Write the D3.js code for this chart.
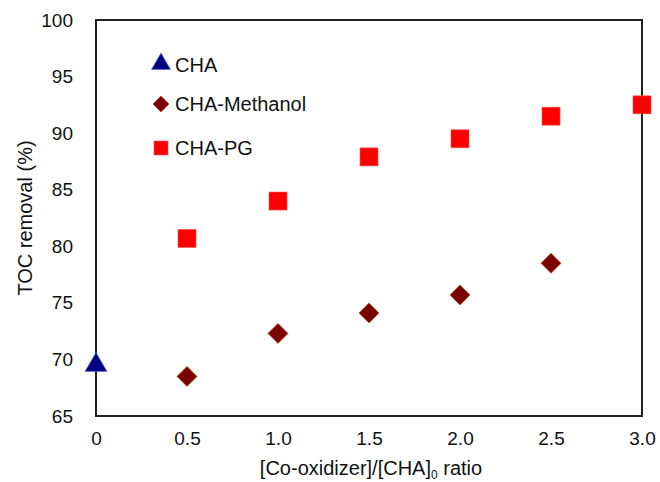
<!DOCTYPE html>
<html>
<head>
<meta charset="utf-8">
<script src="https://cdn.jsdelivr.net/npm/d3@7"></script>
<style>
  html, body { margin: 0; padding: 0; background: #fff; }
  svg { display: block; font-family: "Liberation Sans", Arial, Helvetica, sans-serif; }
</style>
</head>
<body>
<svg id="chart" width="660" height="482"></svg>
<script>
// TOC removal vs. co-oxidizer ratio
const chaX = [0];
const chaY = [69.5];

const methanolX = [0.5, 1.0, 1.5, 2.0, 2.5];
const methanolY = [68.5, 72.3, 74.1, 75.7, 78.5];

const pgX = [0.5, 1.0, 1.5, 2.0, 2.5, 3.0];
const pgY = [80.7, 84.0, 87.9, 89.5, 91.5, 92.5];

const xTicks = [0, 0.5, 1.0, 1.5, 2.0, 2.5, 3.0];
const xTickLabels = ["0", "0.5", "1.0", "1.5", "2.0", "2.5", "3.0"];
const yTicks = [65, 70, 75, 80, 85, 90, 95, 100];

const legendNames = ["CHA", "CHA-Methanol", "CHA-PG"];

const svg = d3.select("#chart");
const margin = { left: 96, right: 18, top: 20, bottom: 66 };
const W = 660, H = 482;

const x = d3.scaleLinear().domain([0, 3]).range([margin.left, W - margin.right]);
const y = d3.scaleLinear().domain([65, 100]).range([H - margin.bottom, margin.top]);

// Frame
svg.append("rect")
  .attr("x", x(0)).attr("y", y(100))
  .attr("width", x(3) - x(0)).attr("height", y(65) - y(100))
  .attr("fill", "none").attr("stroke", "#222").attr("stroke-width", 2);

// Axes (labels only, no tick marks)
const xAxis = d3.axisBottom(x).tickValues(xTicks)
  .tickFormat((d, i) => xTickLabels[i]).tickSize(0).tickPadding(16);
const gx = svg.append("g").attr("transform", `translate(0,${y(65)})`).call(xAxis);
gx.select(".domain").remove();
gx.selectAll("text").attr("font-size", 19).attr("fill", "#111").attr("font-family", null);

const yAxis = d3.axisLeft(y).tickValues(yTicks).tickSize(0).tickPadding(23);
const gy = svg.append("g").attr("transform", `translate(${x(0)},0)`).call(yAxis);
gy.select(".domain").remove();
gy.selectAll("text").attr("font-size", 19).attr("fill", "#111").attr("font-family", null);

// Axis titles
svg.append("text")
  .attr("transform", `translate(32,${(y(65) + y(100)) / 2}) rotate(-90)`)
  .attr("text-anchor", "middle").attr("font-size", 20).attr("fill", "#111")
  .text("TOC removal (%)");

const xt = svg.append("text")
  .attr("x", 371).attr("y", 475)
  .attr("text-anchor", "middle").attr("font-size", 20).attr("fill", "#111");
xt.append("tspan").text("[Co-oxidizer]/[CHA]");
xt.append("tspan").attr("font-size", 12).attr("dy", 4).text("0");
xt.append("tspan").attr("dy", -4).text(" ratio");

// Marker shapes
const tri = d3.symbol().type(d3.symbolTriangle).size(200);
const dia = (cx, cy, r) => `M${cx},${cy - r}L${cx + r},${cy}L${cx},${cy + r}L${cx - r},${cy}Z`;
const sq = 18;

// CHA
svg.append("g").selectAll("path").data(chaX.map((d, i) => [d, chaY[i]])).join("path")
  .attr("d", tri)
  .attr("transform", d => `translate(${x(d[0])},${y(d[1])})`)
  .attr("fill", "#000080").attr("stroke", "#3050c0").attr("stroke-width", 0.8);

// CHA-Methanol
svg.append("g").selectAll("path").data(methanolX.map((d, i) => [d, methanolY[i]])).join("path")
  .attr("d", d => dia(x(d[0]), y(d[1]), 10))
  .attr("fill", "#7a0000").attr("stroke", "#c05020").attr("stroke-width", 0.8);

// CHA-PG
svg.append("g").selectAll("rect").data(pgX.map((d, i) => [d, pgY[i]])).join("rect")
  .attr("x", d => x(d[0]) - sq / 2).attr("y", d => y(d[1]) - sq / 2)
  .attr("width", sq).attr("height", sq)
  .attr("fill", "#ff0000").attr("stroke", "#ff5050").attr("stroke-width", 0.6);

// Legend
const legY = [65, 104, 148];
const lg = svg.append("g");
lg.append("path").attr("d", d3.symbol().type(d3.symbolTriangle).size(150))
  .attr("transform", `translate(161,${legY[0] - 1})`)
  .attr("fill", "#000080").attr("stroke", "#3050c0").attr("stroke-width", 0.8);
lg.append("path").attr("d", dia(161, legY[1], 8))
  .attr("fill", "#7a0000").attr("stroke", "#c05020").attr("stroke-width", 0.8);
lg.append("rect").attr("x", 154).attr("y", legY[2] - 7).attr("width", 14).attr("height", 14)
  .attr("fill", "#ff0000").attr("stroke", "#ff5050").attr("stroke-width", 0.6);
legendNames.forEach((n, i) => {
  lg.append("text").attr("x", 175).attr("y", legY[i] + 7)
    .attr("font-size", 20).attr("fill", "#111").text(n);
});
</script>
</body>
</html>
